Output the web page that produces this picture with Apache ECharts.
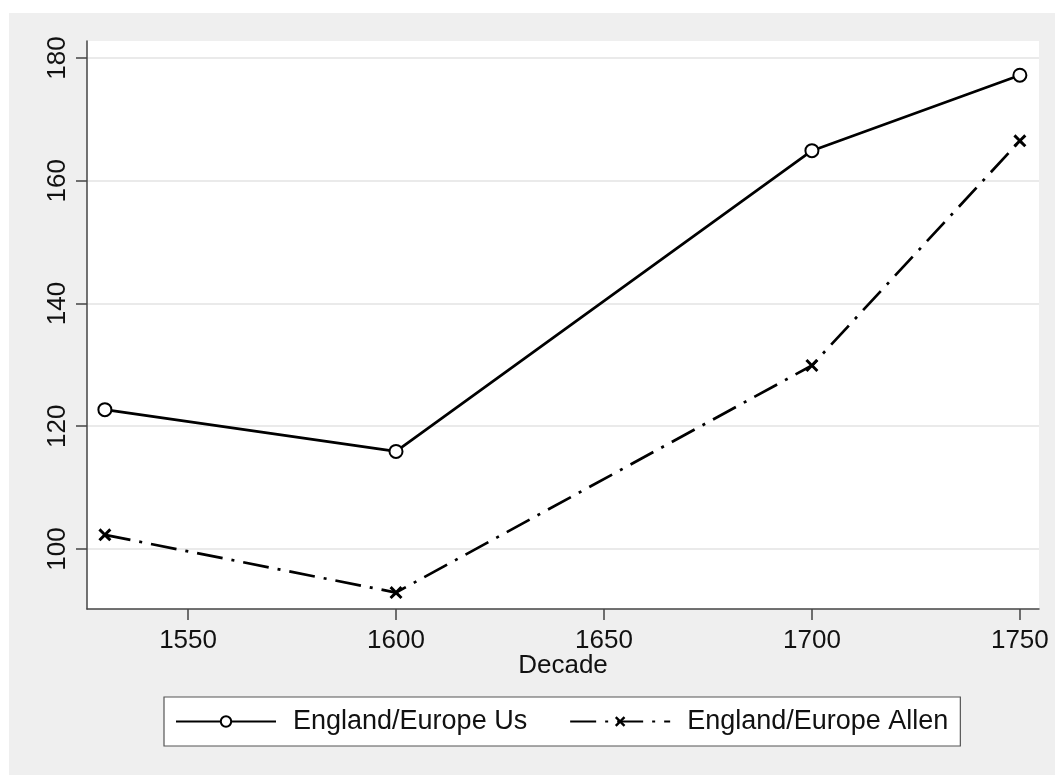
<!DOCTYPE html>
<html>
<head>
<meta charset="utf-8">
<script src="https://cdn.jsdelivr.net/npm/echarts@6/dist/echarts.min.js"></script>
<style>
  html, body { margin: 0; padding: 0; background: #ffffff; }
  #chart { position: absolute; left: 9px; top: 13px; width: 1046px; height: 762px; }
</style>
</head>
<body>
<div id="chart"></div>
<script>
const decades = [1530, 1600, 1700, 1750];
const usValues = [122.7, 115.9, 164.9, 177.2];
const allenValues = [102.3, 92.9, 129.9, 166.5];
const xTicks = [1550, 1600, 1650, 1700, 1750];
const yTicks = [100, 120, 140, 160, 180];
const seriesNames = ['England/Europe Us', 'England/Europe Allen'];
const xAxisTitle = 'Decade';

const xSymbol = 'path://M1.6,0 L5,3.4 L8.4,0 L10,1.6 L6.6,5 L10,8.4 L8.4,10 L5,6.6 L1.6,10 L0,8.4 L3.4,5 L0,1.6 Z';
const font = 'Liberation Sans, Arial, sans-serif';
const axisColor = '#444444';

const chart = echarts.init(document.getElementById('chart'));
chart.setOption({
  backgroundColor: '#efefef',
  animation: false,
  grid: {
    left: 78, top: 28, right: 16, bottom: 166,
    show: true, backgroundColor: '#ffffff', borderWidth: 0,
    containLabel: false
  },
  xAxis: {
    type: 'value',
    min: 1525.7, max: 1754.6,
    name: xAxisTitle,
    nameLocation: 'middle',
    nameGap: 44,
    nameMoveOverlap: false,
    nameTextStyle: { fontFamily: font, fontSize: 26, color: '#111' },
    axisLine: { show: true, lineStyle: { color: axisColor, width: 1.5 } },
    axisTick: { show: true, length: 11, customValues: xTicks, lineStyle: { color: axisColor, width: 1.5 } },
    axisLabel: { customValues: xTicks, margin: 19, fontFamily: font, fontSize: 26, color: '#111', formatter: v => String(v) },
    splitLine: { show: false }
  },
  yAxis: {
    type: 'value',
    min: 90.22, max: 182.77,
    axisLine: { show: true, lineStyle: { color: axisColor, width: 1.5 } },
    axisTick: { show: true, length: 11, customValues: yTicks, lineStyle: { color: axisColor, width: 1.5 } },
    axisLabel: { customValues: yTicks, rotate: 90, margin: 16, fontFamily: font, fontSize: 26, color: '#111', formatter: v => String(v) },
    splitLine: { show: true, lineStyle: { color: '#eaeaea', width: 2 } }
  },
  legend: {
    left: 155, top: 684,
    padding: [11, 12, 11, 11],
    backgroundColor: '#ffffff',
    borderColor: '#555555',
    borderWidth: 1.2,
    borderRadius: 0,
    itemGap: 42,
    itemWidth: 100,
    itemHeight: 13,
    textStyle: { fontFamily: font, fontSize: 27, color: '#111', padding: [0, 0, 0, 12] },
    data: seriesNames
  },
  series: [
    {
      name: seriesNames[0],
      type: 'line',
      data: decades.map((d, i) => [d, usValues[i]]),
      symbol: 'emptyCircle',
      symbolSize: 13,
      lineStyle: { color: '#000', width: 2.7, type: 'solid' },
      itemStyle: { color: '#000', borderColor: '#000', borderWidth: 2.7 }
    },
    {
      name: seriesNames[1],
      type: 'line',
      data: decades.map((d, i) => [d, allenValues[i]]),
      symbol: xSymbol,
      symbolSize: 13,
      lineStyle: { color: '#000', width: 2.7, type: [26, 9, 3, 9] },
      itemStyle: { color: '#000', borderWidth: 0 }
    }
  ]
});
</script>
</body>
</html>
